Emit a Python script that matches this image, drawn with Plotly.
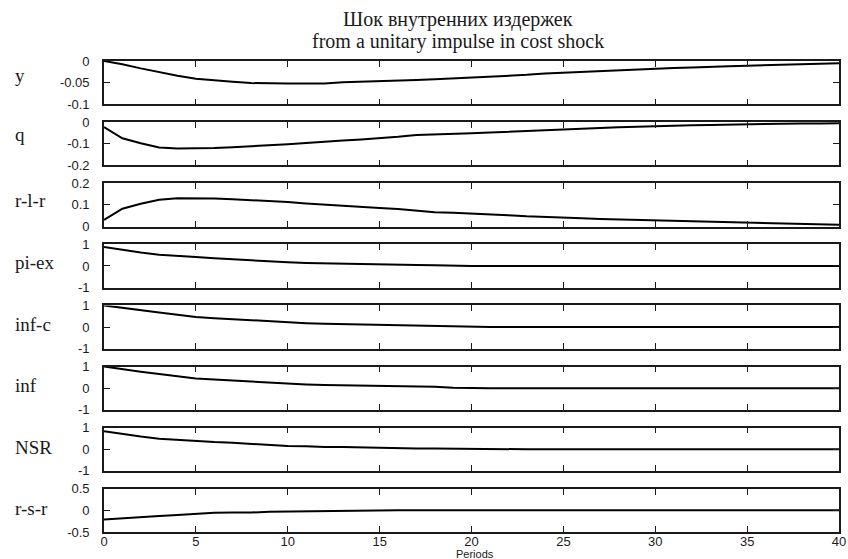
import plotly.graph_objects as go

# Impulse responses to a unit cost shock, periods 0..40
periods = list(range(41))

resp_y = [0.0, -0.0075, -0.017, -0.026, -0.034, -0.041, -0.045, -0.048, -0.051, -0.052,
          -0.052, -0.052, -0.052, -0.049, -0.048, -0.047, -0.045, -0.044, -0.042, -0.040,
          -0.039, -0.037, -0.034, -0.032, -0.029, -0.027, -0.025, -0.023, -0.021, -0.019,
          -0.017, -0.016, -0.015, -0.013, -0.012, -0.011, -0.010, -0.009, -0.007, -0.006,
          -0.005]
resp_q = [-0.023, -0.075, -0.098, -0.117, -0.122, -0.122, -0.120, -0.116, -0.112, -0.108,
          -0.102, -0.096, -0.089, -0.085, -0.080, -0.075, -0.068, -0.060, -0.058, -0.056,
          -0.052, -0.048, -0.044, -0.040, -0.036, -0.033, -0.030, -0.027, -0.024, -0.021,
          -0.019, -0.017, -0.015, -0.013, -0.011, -0.009, -0.008, -0.007, -0.006, -0.006,
          -0.005]
resp_rlr = [0.030, 0.082, 0.105, 0.124, 0.130, 0.131, 0.129, 0.126, 0.122, 0.118,
            0.113, 0.106, 0.100, 0.095, 0.090, 0.085, 0.081, 0.074, 0.066, 0.064,
            0.061, 0.057, 0.052, 0.047, 0.043, 0.040, 0.038, 0.035, 0.033, 0.030,
            0.028, 0.026, 0.024, 0.021, 0.018, 0.016, 0.014, 0.012, 0.010, 0.009,
            0.008]
resp_piex = [0.88, 0.74, 0.62, 0.52, 0.45, 0.41, 0.35, 0.30, 0.25, 0.21,
             0.17, 0.14, 0.12, 0.09, 0.07, 0.06, 0.05, 0.04, 0.03, 0.0,
             0.0, 0.0, 0.0, 0.0, 0.0, 0.0, 0.0, 0.0, 0.0, 0.0,
             0.0, 0.0, 0.0, 0.0, 0.0, 0.0, 0.0, 0.0, 0.0, 0.0,
             0.0]
resp_infc = [1.0, 0.88, 0.77, 0.67, 0.57, 0.46, 0.41, 0.36, 0.31, 0.26,
             0.21, 0.18, 0.15, 0.13, 0.12, 0.09, 0.08, 0.07, 0.06, 0.04,
             0.0, 0.0, 0.0, 0.0, 0.0, 0.0, 0.0, 0.0, 0.0, 0.0,
             0.0, 0.0, 0.0, 0.0, 0.0, 0.0, 0.0, 0.0, 0.0, 0.0,
             0.0]
resp_inf = [1.0, 0.87, 0.76, 0.65, 0.55, 0.45, 0.40, 0.35, 0.30, 0.25,
            0.20, 0.17, 0.14, 0.13, 0.12, 0.09, 0.08, 0.08, 0.06, 0.02,
            0.0, 0.0, 0.0, 0.0, 0.0, 0.0, 0.0, 0.0, 0.0, 0.0,
            0.0, 0.0, 0.0, 0.0, 0.0, 0.0, 0.0, 0.0, 0.0, 0.0,
            0.0]
resp_nsr = [0.83, 0.70, 0.59, 0.49, 0.43, 0.38, 0.33, 0.30, 0.25, 0.21,
            0.15, 0.14, 0.10, 0.10, 0.08, 0.04, 0.03, 0.03, 0.03, 0.02,
            0.0, 0.0, 0.0, 0.0, 0.0, 0.0, 0.0, 0.0, 0.0, 0.0,
            0.0, 0.0, 0.0, 0.0, 0.0, 0.0, 0.0, 0.0, 0.0, 0.0,
            0.0]
resp_rsr = [-0.21, -0.18, -0.145, -0.13, -0.105, -0.08, -0.056, -0.05, -0.05, -0.03,
            -0.024, -0.024, -0.024, -0.02, 0.0, 0.0, 0.0, 0.0, 0.0, 0.0,
            0.0, 0.0, 0.0, 0.0, 0.0, 0.0, 0.0, 0.0, 0.0, 0.0,
            0.0, 0.0, 0.0, 0.0, 0.0, 0.0, 0.0, 0.0, 0.0, 0.0,
            0.0]

panel_names = ["y", "q", "r-l-r", "pi-ex", "inf-c", "inf", "NSR", "r-s-r"]
panel_series = [resp_y, resp_q, resp_rlr, resp_piex, resp_infc, resp_inf, resp_nsr, resp_rsr]
panel_ranges = [[-0.1, 0], [-0.2, 0], [0, 0.2], [-1, 1], [-1, 1], [-1, 1], [-1, 1], [-0.5, 0.5]]
panel_tickvals = [[-0.1, -0.05, 0], [-0.2, -0.1, 0], [0, 0.1, 0.2], [-1, 0, 1],
                  [-1, 0, 1], [-1, 0, 1], [-1, 0, 1], [-0.5, 0, 0.5]]
panel_ticktext = [["-0.1", "-0.05", "0"], ["-0.2", "-0.1", "0"], ["0", "0.1", "0.2"],
                  ["-1", "0", "1"], ["-1", "0", "1"], ["-1", "0", "1"], ["-1", "0", "1"],
                  ["-0.5", "0", "0.5"]]
# baseline of each row label, in pixels from the top
label_baselines = [81, 140, 206, 268, 330, 391, 453, 514]
x_tickvals = [0, 5, 10, 15, 20, 25, 30, 35, 40]

title_line1 = "Шок внутренних издержек"
title_line2 = "from a unitary impulse in cost shock"
x_title = "Periods"

W, H = 848, 559
ML, MR, MT, MB = 104, 9, 61, 27
PLOT_H = H - MT - MB
PLOT_W = W - ML - MR


def ypaper(px):
    return (H - MB - px) / PLOT_H


def clamp01(v):
    return min(1.0, max(0.0, v))


def xpaper(px):
    return (px - ML) / PLOT_W


PANEL_TOP0, PANEL_STEP, PANEL_H = 61, 61.1, 43.3
INK = "#1a1a1a"
SANS = "Liberation Sans, Arial, sans-serif"
SERIF = "Liberation Serif, Times New Roman, serif"

fig = go.Figure()
layout = {}
annotations = []

for i, (name, series) in enumerate(zip(panel_names, panel_series)):
    n = "" if i == 0 else str(i + 1)
    fig.add_trace(go.Scatter(
        x=periods, y=series, mode="lines",
        line=dict(color="black", width=2),
        xaxis="x" + n, yaxis="y" + n,
        showlegend=False, hoverinfo="skip",
    ))
    top = PANEL_TOP0 + i * PANEL_STEP
    bottom = top + PANEL_H
    last = i == len(panel_names) - 1
    layout["xaxis" + n] = dict(
        domain=[0, 1], anchor="y" + n, range=[0, 40], automargin=False,
        tickvals=x_tickvals, ticktext=[str(v) for v in x_tickvals],
        ticks="inside", ticklen=6, tickwidth=1, tickcolor=INK,
        showline=True, mirror="ticks", linecolor=INK, linewidth=1.6,
        showgrid=False, zeroline=False, showticklabels=last, ticklabelstandoff=-3,
        tickfont=dict(family=SANS, size=13, color=INK),
    )
    layout["yaxis" + n] = dict(
        domain=[clamp01(ypaper(bottom)), clamp01(ypaper(top))], anchor="x" + n,
        range=panel_ranges[i], tickvals=panel_tickvals[i], ticktext=panel_ticktext[i],
        automargin=False,
        ticks="inside", ticklen=6, tickwidth=1, tickcolor=INK,
        showline=True, mirror="ticks", linecolor=INK, linewidth=1.6,
        showgrid=False, zeroline=False, ticklabelstandoff=10,
        tickfont=dict(family=SANS, size=13, color=INK),
    )
    annotations.append(dict(
        text=name, xref="paper", yref="paper",
        x=xpaper(13), y=ypaper(label_baselines[i] - 6),
        xanchor="left", yanchor="middle", showarrow=False,
        font=dict(family=SERIF, size=19, color=INK),
    ))

annotations.append(dict(
    text=title_line1, xref="paper", yref="paper", x=xpaper(458), y=ypaper(19.5),
    xanchor="center", yanchor="middle", showarrow=False,
    font=dict(family=SERIF, size=20, color=INK),
))
annotations.append(dict(
    text=title_line2, xref="paper", yref="paper", x=xpaper(458), y=ypaper(41.5),
    xanchor="center", yanchor="middle", showarrow=False,
    font=dict(family=SERIF, size=20, color=INK),
))
annotations.append(dict(
    text=x_title, xref="paper", yref="paper", x=xpaper(475), y=ypaper(553.5),
    xanchor="center", yanchor="middle", showarrow=False,
    font=dict(family=SANS, size=11, color=INK),
))

fig.update_layout(
    width=W, height=H,
    margin=dict(l=ML, r=MR, t=MT, b=MB),
    paper_bgcolor="white", plot_bgcolor="white",
    annotations=annotations,
    **layout,
)

fig.write_html("out.html")
